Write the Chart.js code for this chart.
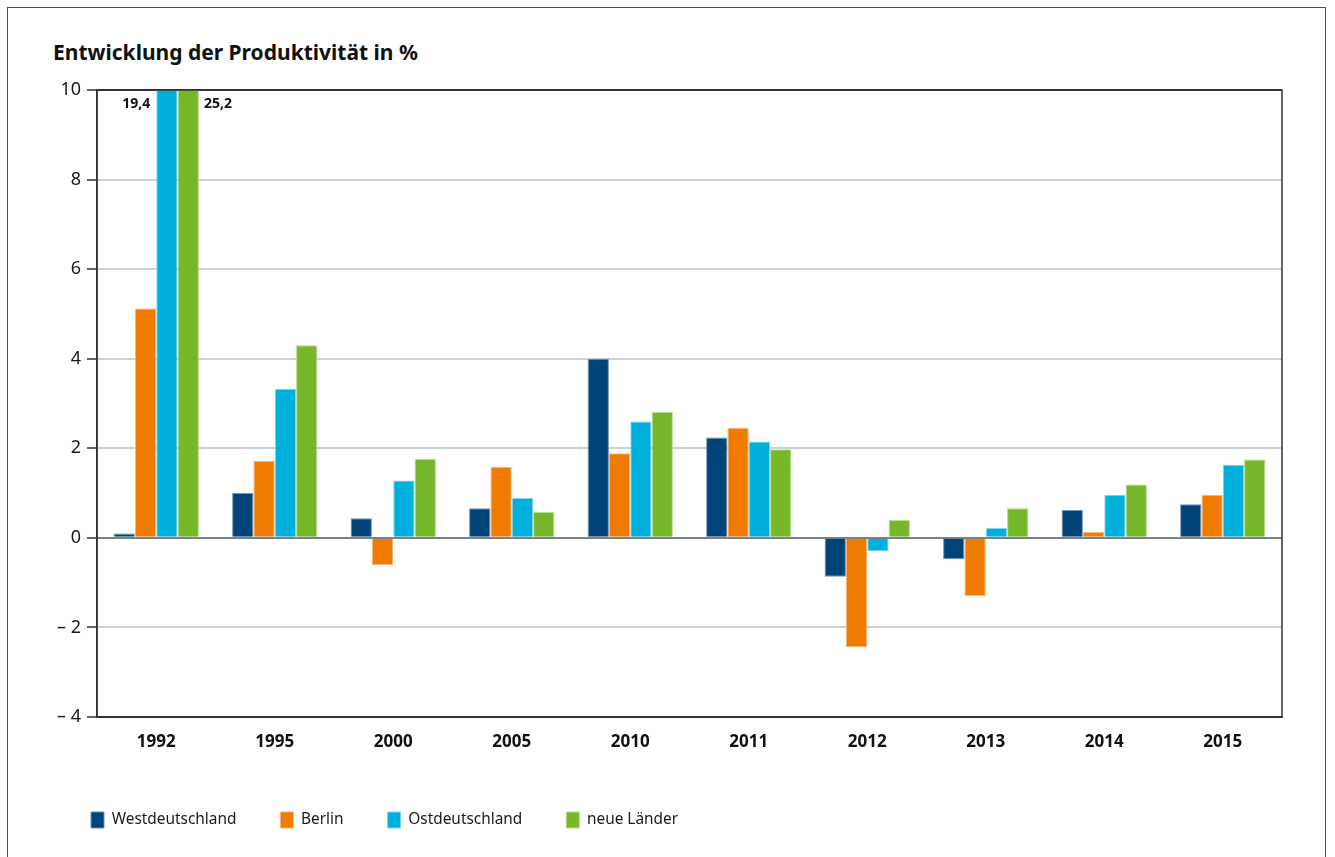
<!DOCTYPE html>
<html lang="de">
<head>
<meta charset="utf-8">
<title>Entwicklung der Produktivität in %</title>
<script src="https://cdn.jsdelivr.net/npm/chart.js@4.4.1/dist/chart.umd.min.js"></script>
<style>
    html, body { margin: 0; padding: 0; background: #fff; overflow: hidden; }
    #frame {
        position: absolute; left: 7px; top: 7px; width: 1319px; height: 900px;
        border: 1px solid #4a4a4a; box-sizing: border-box;
    }
    #title {
        position: absolute; left: 53px; top: 41px; margin: 0;
        font: bold 21px "Noto Sans", sans-serif; line-height: 23px; color: #111;
    }
    #dgg { position: absolute; left: 0; top: 0; }
</style>
</head>
<body>
<div id="frame"></div>
<h1 id="title">Entwicklung der Produktivität in %</h1>
<canvas id="dgg" width="1335" height="857"></canvas>
<script>
const years = ['1992', '1995', '2000', '2005', '2010', '2011', '2012', '2013', '2014', '2015'];
const westdeutschland = [0.1, 1.0, 0.44, 0.66, 4.0, 2.24, -0.87, -0.48, 0.62, 0.75];
const berlin = [5.12, 1.72, -0.61, 1.59, 1.89, 2.46, -2.44, -1.3, 0.13, 0.96];
const ostdeutschland = [19.4, 3.33, 1.28, 0.89, 2.6, 2.15, -0.3, 0.22, 0.96, 1.63];
const neueLaender = [25.2, 4.3, 1.76, 0.58, 2.81, 1.98, 0.4, 0.66, 1.19, 1.75];
const yTicks = [-4, -2, 0, 2, 4, 6, 8, 10];

const FONT = '"Noto Sans", sans-serif';

const series = [
    { label: 'Westdeutschland', data: westdeutschland, color: '#004479', edge: '#6f93b3' },
    { label: 'Berlin', data: berlin, color: '#ef7c00', edge: '#f7b577' },
    { label: 'Ostdeutschland', data: ostdeutschland, color: '#00b0dc', edge: '#7fd6ee' },
    { label: 'neue Länder', data: neueLaender, color: '#77b82a', edge: '#b5db8c' }
];

// frame round the plot area
const plotFrame = {
    id: 'plotFrame',
    afterDatasetsDraw(chart) {
        const { ctx, chartArea: a } = chart;
        ctx.save();
        ctx.strokeStyle = '#333';
        ctx.lineWidth = 1.5;
        ctx.strokeRect(a.left, a.top, a.right - a.left, a.bottom - a.top);
        ctx.restore();
    }
};

// values of bars that run past the top of the axis
const cutLabels = {
    id: 'cutLabels',
    afterDatasetsDraw(chart) {
        const { ctx } = chart;
        const yMax = chart.scales.y.max;
        ctx.save();
        ctx.font = 'bold 14px ' + FONT;
        ctx.fillStyle = '#111';
        ctx.textBaseline = 'middle';
        years.forEach((y, i) => {
            let cut = [];
            chart.data.datasets.forEach((ds, d) => {
                if (ds.data[i] > yMax) cut.push(d);
            });
            cut.forEach((d, k) => {
                const bar = chart.getDatasetMeta(d).data[i];
                const txt = chart.data.datasets[d].data[i].toFixed(1).replace('.', ',');
                const ty = chart.chartArea.top + 14;
                if (k === 0 && cut.length > 1) {
                    ctx.textAlign = 'right';
                    ctx.fillText(txt, bar.x - bar.width / 2 - 6, ty);
                } else {
                    ctx.textAlign = 'left';
                    ctx.fillText(txt, bar.x + bar.width / 2 + 5, ty);
                }
            });
        });
        ctx.restore();
    }
};

const chart = new Chart(document.getElementById('dgg'), {
    type: 'bar',
    data: {
        labels: years,
        datasets: series.map((s) => ({
            label: s.label,
            data: s.data,
            backgroundColor: s.color,
            borderColor: s.edge,
            borderWidth: 1,
            categoryPercentage: 0.72,
            barPercentage: 1
        }))
    },
    options: {
        responsive: false,
        animation: false,
        devicePixelRatio: 1,
        layout: { padding: { left: 47, right: 53, top: 90, bottom: 19 } },
        plugins: {
            tooltip: { enabled: false },
            legend: {
                position: 'bottom',
                align: 'start',
                labels: {
                    boxWidth: 13,
                    boxHeight: 16,
                    padding: 44,
                    color: '#1a1a1a',
                    font: { family: FONT, size: 15.4 }
                }
            }
        },
        scales: {
            x: {
                grid: { display: false, drawTicks: false },
                border: { display: true, color: '#333', width: 1.5 },
                ticks: { padding: 15, color: '#111', font: { family: FONT, size: 17, weight: 'bold' } },
                afterFit: (s) => { s.height = 51; }
            },
            y: {
                min: -4,
                max: 10,
                afterBuildTicks: (s) => { s.ticks = yTicks.map((v) => ({ value: v })); },
                afterFit: (s) => { s.width = 50; },
                border: { display: true, color: '#333', width: 1.5 },
                grid: {
                    tickLength: 10,
                    tickColor: '#333',
                    tickWidth: 1.5,
                    lineWidth: 2,
                    color: (c) => {
                        if (c.tick.value === 0) return '#7a8187';
                        if (c.tick.value === 10 || c.tick.value === -4) return '#333';
                        return '#ccd1d6';
                    }
                },
                ticks: {
                    padding: 6,
                    color: '#1a1a1a',
                    font: { family: FONT, size: 18 },
                    callback: (v) => v < 0 ? '\u2013 ' + Math.abs(v) : String(v)
                }
            }
        }
    },
    plugins: [plotFrame, cutLabels]
});
</script>
</body>
</html>
